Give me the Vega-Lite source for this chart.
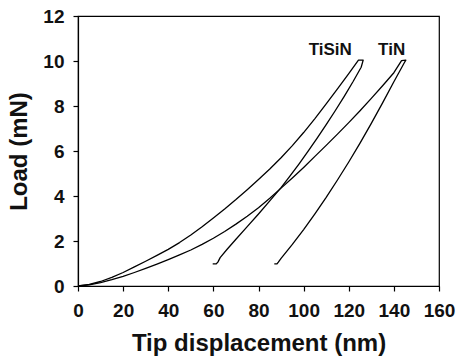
{
  "$schema": "https://vega.github.io/schema/vega-lite/v6.json",
  "width": 361,
  "height": 270,
  "autosize": {"type": "none"},
  "padding": {"left": 78, "top": 16, "right": 18, "bottom": 74},
  "background": "white",
  "config": {
    "view": {"stroke": "black", "strokeWidth": 1.2},
    "axis": {
      "grid": false,
      "domainColor": "black",
      "domainWidth": 1.2,
      "tickColor": "black",
      "tickWidth": 1.2,
      "tickSize": 5,
      "labelFont": "Liberation Sans",
      "labelFontWeight": "bold",
      "labelFontSize": 19,
      "labelColor": "#111",
      "labelFlush": false,
      "labelOverlap": false,
      "titleFont": "Liberation Sans",
      "titleFontWeight": "bold",
      "titleFontSize": 24,
      "titleColor": "#111"
    }
  },
  "datasets": {
    "curves": [
      {"s": "TiSiN", "i": 1, "h": 0, "p": 0},
      {"s": "TiSiN", "i": 2, "h": 5, "p": 0.07},
      {"s": "TiSiN", "i": 3, "h": 10, "p": 0.2},
      {"s": "TiSiN", "i": 4, "h": 15, "p": 0.38},
      {"s": "TiSiN", "i": 5, "h": 20, "p": 0.6},
      {"s": "TiSiN", "i": 6, "h": 25, "p": 0.85},
      {"s": "TiSiN", "i": 7, "h": 30, "p": 1.1},
      {"s": "TiSiN", "i": 8, "h": 35, "p": 1.36},
      {"s": "TiSiN", "i": 9, "h": 40, "p": 1.63},
      {"s": "TiSiN", "i": 10, "h": 45, "p": 1.93},
      {"s": "TiSiN", "i": 11, "h": 50, "p": 2.27},
      {"s": "TiSiN", "i": 12, "h": 55, "p": 2.63},
      {"s": "TiSiN", "i": 13, "h": 60, "p": 3.02},
      {"s": "TiSiN", "i": 14, "h": 65, "p": 3.42},
      {"s": "TiSiN", "i": 15, "h": 70, "p": 3.84},
      {"s": "TiSiN", "i": 16, "h": 75, "p": 4.28},
      {"s": "TiSiN", "i": 17, "h": 80, "p": 4.73},
      {"s": "TiSiN", "i": 18, "h": 85, "p": 5.2},
      {"s": "TiSiN", "i": 19, "h": 90, "p": 5.7},
      {"s": "TiSiN", "i": 20, "h": 95, "p": 6.24},
      {"s": "TiSiN", "i": 21, "h": 100, "p": 6.82},
      {"s": "TiSiN", "i": 22, "h": 105, "p": 7.44},
      {"s": "TiSiN", "i": 23, "h": 110, "p": 8.09},
      {"s": "TiSiN", "i": 24, "h": 115, "p": 8.76},
      {"s": "TiSiN", "i": 25, "h": 120, "p": 9.44},
      {"s": "TiSiN", "i": 26, "h": 124.3, "p": 10.04},
      {"s": "TiSiN", "i": 27, "h": 126.4, "p": 10.04},
      {"s": "TiSiN", "i": 28, "h": 125.5, "p": 9.72},
      {"s": "TiSiN", "i": 29, "h": 122, "p": 9.1},
      {"s": "TiSiN", "i": 30, "h": 118, "p": 8.43},
      {"s": "TiSiN", "i": 31, "h": 114, "p": 7.79},
      {"s": "TiSiN", "i": 32, "h": 110, "p": 7.17},
      {"s": "TiSiN", "i": 33, "h": 106, "p": 6.57},
      {"s": "TiSiN", "i": 34, "h": 102, "p": 5.99},
      {"s": "TiSiN", "i": 35, "h": 98, "p": 5.43},
      {"s": "TiSiN", "i": 36, "h": 94, "p": 4.89},
      {"s": "TiSiN", "i": 37, "h": 90, "p": 4.37},
      {"s": "TiSiN", "i": 38, "h": 85, "p": 3.78},
      {"s": "TiSiN", "i": 39, "h": 80, "p": 3.2},
      {"s": "TiSiN", "i": 40, "h": 75, "p": 2.64},
      {"s": "TiSiN", "i": 41, "h": 70, "p": 2.08},
      {"s": "TiSiN", "i": 42, "h": 66, "p": 1.62},
      {"s": "TiSiN", "i": 43, "h": 63, "p": 1.26},
      {"s": "TiSiN", "i": 44, "h": 62, "p": 1.06},
      {"s": "TiSiN", "i": 45, "h": 61.2, "p": 0.98},
      {"s": "TiSiN", "i": 46, "h": 59.7, "p": 0.98},
      {"s": "TiN", "i": 1, "h": 0, "p": 0},
      {"s": "TiN", "i": 2, "h": 5, "p": 0.05},
      {"s": "TiN", "i": 3, "h": 10, "p": 0.15},
      {"s": "TiN", "i": 4, "h": 15, "p": 0.28},
      {"s": "TiN", "i": 5, "h": 20, "p": 0.43},
      {"s": "TiN", "i": 6, "h": 25, "p": 0.6},
      {"s": "TiN", "i": 7, "h": 30, "p": 0.78},
      {"s": "TiN", "i": 8, "h": 35, "p": 0.97},
      {"s": "TiN", "i": 9, "h": 40, "p": 1.17},
      {"s": "TiN", "i": 10, "h": 45, "p": 1.38},
      {"s": "TiN", "i": 11, "h": 50, "p": 1.6},
      {"s": "TiN", "i": 12, "h": 55, "p": 1.85},
      {"s": "TiN", "i": 13, "h": 60, "p": 2.12},
      {"s": "TiN", "i": 14, "h": 65, "p": 2.42},
      {"s": "TiN", "i": 15, "h": 70, "p": 2.75},
      {"s": "TiN", "i": 16, "h": 75, "p": 3.1},
      {"s": "TiN", "i": 17, "h": 80, "p": 3.48},
      {"s": "TiN", "i": 18, "h": 85, "p": 3.9},
      {"s": "TiN", "i": 19, "h": 90, "p": 4.35},
      {"s": "TiN", "i": 20, "h": 95, "p": 4.8},
      {"s": "TiN", "i": 21, "h": 100, "p": 5.27},
      {"s": "TiN", "i": 22, "h": 105, "p": 5.76},
      {"s": "TiN", "i": 23, "h": 110, "p": 6.25},
      {"s": "TiN", "i": 24, "h": 115, "p": 6.75},
      {"s": "TiN", "i": 25, "h": 120, "p": 7.26},
      {"s": "TiN", "i": 26, "h": 125, "p": 7.79},
      {"s": "TiN", "i": 27, "h": 130, "p": 8.34},
      {"s": "TiN", "i": 28, "h": 135, "p": 8.9},
      {"s": "TiN", "i": 29, "h": 140, "p": 9.48},
      {"s": "TiN", "i": 30, "h": 143.4, "p": 10.02},
      {"s": "TiN", "i": 31, "h": 145.3, "p": 10.04},
      {"s": "TiN", "i": 32, "h": 144.5, "p": 9.9},
      {"s": "TiN", "i": 33, "h": 140, "p": 9.08},
      {"s": "TiN", "i": 34, "h": 135, "p": 8.14},
      {"s": "TiN", "i": 35, "h": 130, "p": 7.23},
      {"s": "TiN", "i": 36, "h": 125, "p": 6.35},
      {"s": "TiN", "i": 37, "h": 120, "p": 5.51},
      {"s": "TiN", "i": 38, "h": 115, "p": 4.71},
      {"s": "TiN", "i": 39, "h": 110, "p": 3.94},
      {"s": "TiN", "i": 40, "h": 105, "p": 3.21},
      {"s": "TiN", "i": 41, "h": 100, "p": 2.51},
      {"s": "TiN", "i": 42, "h": 95, "p": 1.85},
      {"s": "TiN", "i": 43, "h": 90, "p": 1.23},
      {"s": "TiN", "i": 44, "h": 88.8, "p": 1.06},
      {"s": "TiN", "i": 45, "h": 88.2, "p": 0.98},
      {"s": "TiN", "i": 46, "h": 87, "p": 0.98}
    ],
    "labels": [
      {"label": "TiSiN", "h": 111.8, "p": 10.49},
      {"label": "TiN", "h": 139, "p": 10.49}
    ]
  },
  "encoding": {
    "x": {
      "field": "h",
      "type": "quantitative",
      "scale": {"domain": [0, 160], "nice": false, "zero": false},
      "axis": {"values": [0, 20, 40, 60, 80, 100, 120, 140, 160], "title": "Tip displacement (nm)", "labelPadding": 10, "titlePadding": 11}
    },
    "y": {
      "field": "p",
      "type": "quantitative",
      "scale": {"domain": [0, 12], "nice": false, "zero": false},
      "axis": {"values": [0, 2, 4, 6, 8, 10, 12], "title": "Load (mN)", "labelPadding": 9, "titlePadding": 11}
    }
  },
  "layer": [
    {
      "data": {"name": "curves"},
      "mark": {"type": "line", "color": "black", "strokeWidth": 1.3, "strokeJoin": "round"},
      "encoding": {
        "detail": {"field": "s"},
        "order": {"field": "i", "type": "quantitative"}
      }
    },
    {
      "data": {"name": "labels"},
      "mark": {"type": "text", "font": "Liberation Sans", "fontWeight": "bold", "fontSize": 17, "color": "#111", "align": "center", "baseline": "middle"},
      "encoding": {"text": {"field": "label"}}
    }
  ]
}
